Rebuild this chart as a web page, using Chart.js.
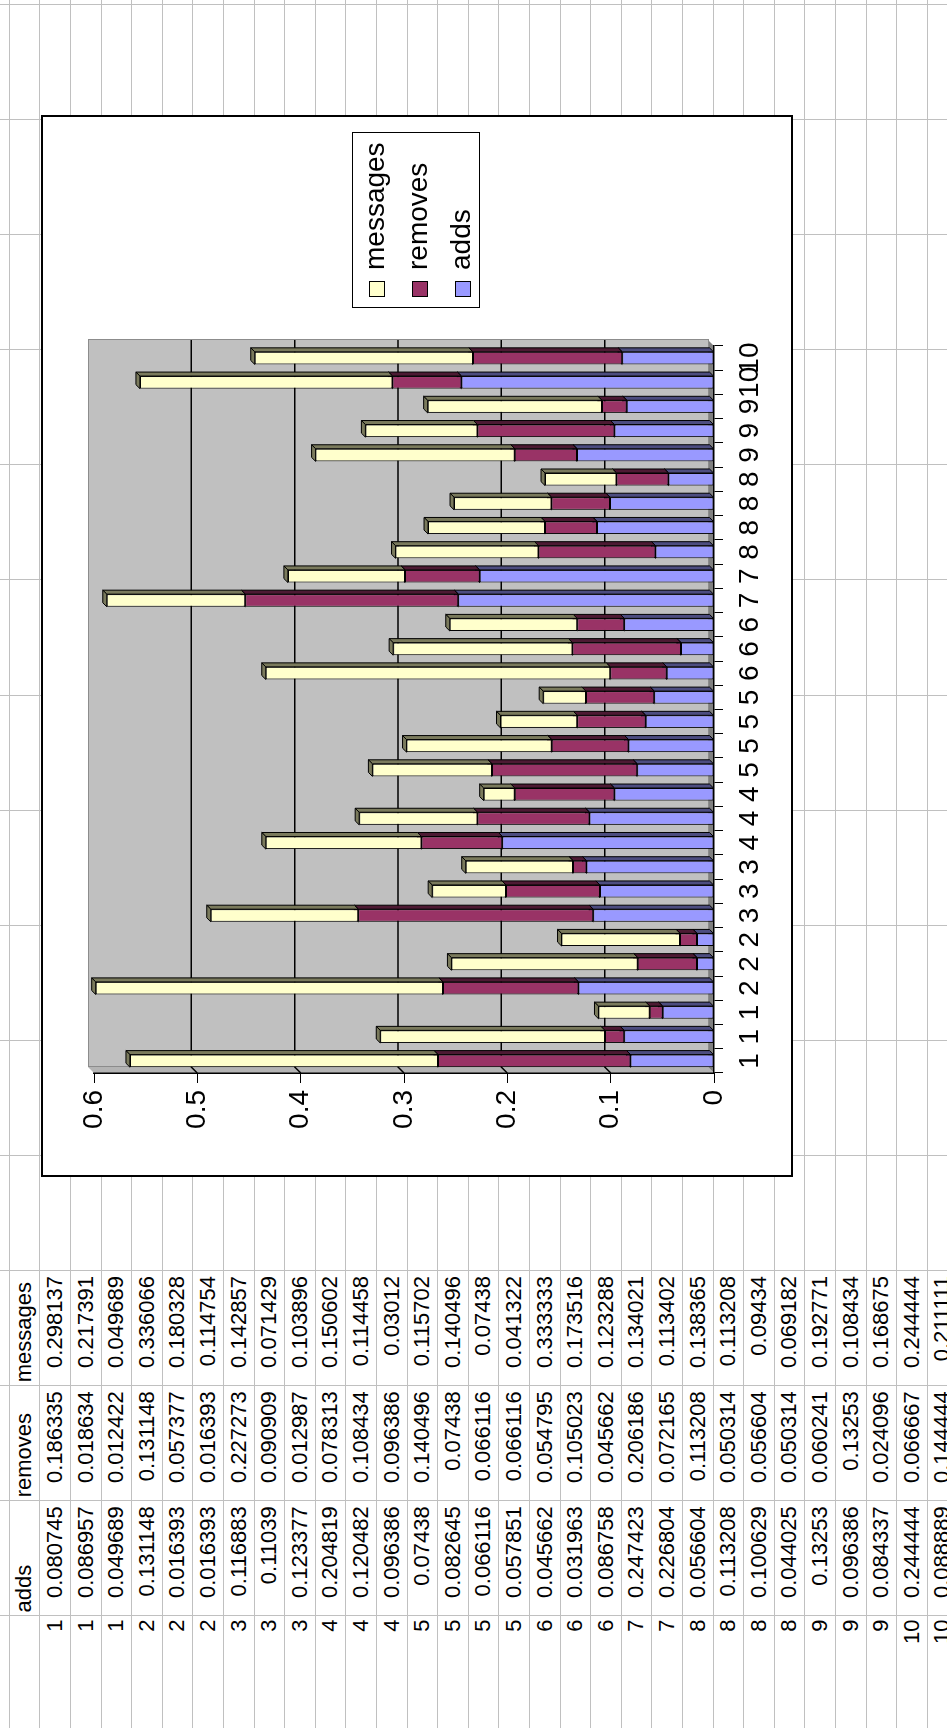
<!DOCTYPE html>
<html>
<head>
<meta charset="utf-8">
<script src="https://cdn.jsdelivr.net/npm/chart.js@4.4.1/dist/chart.umd.min.js"></script>
<style>
  html, body { margin: 0; padding: 0; background: #fff; width: 947px; height: 1728px; overflow: hidden; }
  #sheet {
    position: absolute; left: 0; top: 0; width: 1728px; height: 947px;
    transform-origin: 0 0; transform: translateY(1728px) rotate(-90deg);
    background: #fff; overflow: hidden;
    font-family: "Liberation Sans", Arial, sans-serif; color: #000;
  }
  .hl { position: absolute; left: 0; width: 1728px; height: 1px; background: #c0c0c0; }
  .vl { position: absolute; top: 0; width: 1px; height: 947px; background: #c0c0c0; }
  .cell { position: absolute; height: 30px; line-height: 30px; font-size: 22px; white-space: nowrap; }
  #chartBox { position: absolute; left: 551px; top: 41px; width: 1062px; height: 752px; background: #fff; }
  #chartBox canvas { position: absolute; left: 0; top: 0; }
  #frame { position: absolute; left: 0; top: 0; width: 1062px; height: 752px; box-sizing: border-box; border: 2px solid #000; pointer-events: none; }
  #legend { position: absolute; left: 869px; top: 311px; width: 176px; height: 128px; box-sizing: border-box; border: 1px solid #000; background: #fff; }
  .sw { position: absolute; width: 16px; height: 16px; box-sizing: border-box; border: 1px solid #000; }
  .lt { position: absolute; font-size: 28px; line-height: 28px; white-space: nowrap; }
</style>
</head>
<body>
<div id="sheet">
  <div id="chartBox">
    <canvas id="chart" width="1062" height="752"></canvas>
    <div id="legend"></div>
    <div id="frame"></div>
  </div>
</div>
<script>
// ---- data ----
const categories = ['1','1','1','2','2','2','3','3','3','4','4','4','5','5','5','5',
                    '6','6','6','7','7','8','8','8','8','9','9','9','10','10'];

const adds = [0.080745, 0.086957, 0.049689, 0.131148, 0.016393, 0.016393, 0.116883, 0.11039,
              0.123377, 0.204819, 0.120482, 0.096386, 0.07438, 0.082645, 0.066116, 0.057851,
              0.045662, 0.031963, 0.086758, 0.247423, 0.226804, 0.056604, 0.113208, 0.100629,
              0.044025, 0.13253, 0.096386, 0.084337, 0.244444, 0.088889];

const removes = [0.186335, 0.018634, 0.012422, 0.131148, 0.057377, 0.016393, 0.227273, 0.090909,
                 0.012987, 0.078313, 0.108434, 0.096386, 0.140496, 0.07438, 0.066116, 0.066116,
                 0.054795, 0.105023, 0.045662, 0.206186, 0.072165, 0.113208, 0.050314, 0.056604,
                 0.050314, 0.060241, 0.13253, 0.024096, 0.066667, 0.144444];

const messages = [0.298137, 0.217391, 0.049689, 0.336066, 0.180328, 0.114754, 0.142857, 0.071429,
                  0.103896, 0.150602, 0.114458, 0.03012, 0.115702, 0.140496, 0.07438, 0.041322,
                  0.333333, 0.173516, 0.123288, 0.134021, 0.113402, 0.138365, 0.113208, 0.09434,
                  0.069182, 0.192771, 0.108434, 0.168675, 0.244444, 0.211111];

const valueTickLabels = ['0', '0.1', '0.2', '0.3', '0.4', '0.5', '0.6'];
const seriesNames = ['adds', 'removes', 'messages'];

// ---- worksheet grid ----
const sheet = document.getElementById('sheet');
const ROW0 = 8.7, ROW_H = 30.6;          // row lines (landscape y)
const COL0 = 5, COL_W = 115.1;           // column lines measured from the right edge
for (let k = 0; k <= 31; k++) {
  const d = document.createElement('div');
  d.className = 'hl';
  d.style.top = Math.round(ROW0 + ROW_H * k) + 'px';
  sheet.insertBefore(d, sheet.firstChild);
}
const colEdge = k => 1728 - (COL0 + COL_W * k);
for (let k = 0; k <= 14; k++) {
  const d = document.createElement('div');
  d.className = 'vl';
  d.style.left = Math.round(colEdge(k)) + 'px';
  sheet.insertBefore(d, sheet.firstChild);
}

// ---- data table ----
const cols = [
  { left: 0, right: colEdge(14) },          // row label
  { left: colEdge(14), right: colEdge(13) }, // adds
  { left: colEdge(13), right: colEdge(12) }, // removes
  { left: colEdge(12), right: colEdge(11) }  // messages
];
function cell(text, row, col, align, pad) {
  const d = document.createElement('div');
  d.className = 'cell';
  const c = cols[col];
  d.style.top = (ROW0 + ROW_H * row + 0.6) + 'px';
  d.style.textAlign = align;
  if (align === 'right') {
    d.style.left = c.left + 'px';
    d.style.width = (c.right - c.left - pad) + 'px';
  } else {
    d.style.left = (c.left + pad) + 'px';
    d.style.width = (c.right - c.left - pad) + 'px';
  }
  d.textContent = text;
  sheet.appendChild(d);
}
seriesNames.forEach((n, j) => cell(n, 0, j + 1, 'left', 4));
categories.forEach((c, i) => {
  cell(c, i + 1, 0, 'right', 3);
  cell(String(adds[i]), i + 1, 1, 'right', 5);
  cell(String(removes[i]), i + 1, 2, 'right', 5);
  cell(String(messages[i]), i + 1, 3, 'right', 5);
});

// ---- chart ----
const FONT = '"Liberation Sans", Arial, sans-serif';
const fills = { adds: '#9999FF', removes: '#993366', messages: '#FFFFCC' };
const shades = { adds: '#4d4d80', removes: '#4d1a33', messages: '#7a7a5c' };
const WALL_DEPTH = 6, BAR_DEPTH = 4;

// gray back wall, side wall, floor and the gridlines on the wall
const wall3d = {
  id: 'wall3d',
  beforeDraw(chart) {
    const { ctx, chartArea: a, scales: { y } } = chart;
    const d = WALL_DEPTH;
    ctx.save();
    ctx.fillStyle = '#c0c0c0';
    ctx.fillRect(a.left + d, a.top - d, a.right - a.left, a.bottom - a.top);
    ctx.beginPath();
    ctx.moveTo(a.left, a.bottom); ctx.lineTo(a.left, a.top);
    ctx.lineTo(a.left + d, a.top - d); ctx.lineTo(a.left + d, a.bottom - d);
    ctx.closePath();
    ctx.fillStyle = '#b4b4b4'; ctx.fill();
    ctx.beginPath();
    ctx.moveTo(a.left, a.bottom); ctx.lineTo(a.right, a.bottom);
    ctx.lineTo(a.right + d, a.bottom - d); ctx.lineTo(a.left + d, a.bottom - d);
    ctx.closePath();
    ctx.fillStyle = '#808080'; ctx.fill();
    ctx.strokeStyle = '#8c8c8c'; ctx.lineWidth = 1;
    ctx.strokeRect(a.left + d + 0.5, a.top - d + 0.5, a.right - a.left, a.bottom - a.top);
    ctx.strokeStyle = '#000'; ctx.lineWidth = 1.5;
    y.ticks.forEach(t => {
      if (t.value <= 0 || t.value >= y.max) return;
      const py = y.getPixelForValue(t.value);
      ctx.beginPath();
      ctx.moveTo(a.left, py);
      ctx.lineTo(a.left + d, py - d);
      ctx.lineTo(a.right + d, py - d);
      ctx.stroke();
    });
    ctx.restore();
  },
  // darker side and top faces of each bar segment
  beforeDatasetsDraw(chart) {
    const ctx = chart.ctx, bd = BAR_DEPTH;
    ctx.save();
    ctx.strokeStyle = '#000'; ctx.lineWidth = 1;
    chart.data.datasets.forEach((ds, i) => {
      const meta = chart.getDatasetMeta(i);
      ctx.fillStyle = shades[ds.label];
      meta.data.forEach(el => {
        const { x, y, base, width } = el.getProps(['x', 'y', 'base', 'width'], true);
        const l = x - width / 2, r = x + width / 2;
        const t = Math.min(y, base), b = Math.max(y, base);
        ctx.beginPath();
        ctx.moveTo(r, b); ctx.lineTo(r, t); ctx.lineTo(r + bd, t - bd); ctx.lineTo(r + bd, b - bd);
        ctx.closePath(); ctx.fill(); ctx.stroke();
        ctx.beginPath();
        ctx.moveTo(l, t); ctx.lineTo(r, t); ctx.lineTo(r + bd, t - bd); ctx.lineTo(l + bd, t - bd);
        ctx.closePath(); ctx.fill(); ctx.stroke();
      });
    });
    ctx.restore();
  }
};

const series = { adds, removes, messages };
new Chart(document.getElementById('chart'), {
  type: 'bar',
  data: {
    labels: categories,
    datasets: seriesNames.map(n => ({
      label: n,
      data: series[n],
      backgroundColor: fills[n],
      borderColor: '#000',
      borderWidth: 1,
      borderSkipped: false,
      barPercentage: 0.52,
      categoryPercentage: 1.0
    }))
  },
  options: {
    responsive: false,
    animation: false,
    devicePixelRatio: 1,
    layout: { padding: { left: 0, top: 53, right: 231, bottom: 0 } },
    plugins: { legend: { display: false }, tooltip: { enabled: false } },
    scales: {
      x: {
        stacked: true,
        offset: true,
        grid: { display: true, offset: true, drawOnChartArea: false, drawTicks: true, tickLength: 9, color: '#000', lineWidth: 1 },
        border: { display: true, color: '#000', width: 1.5 },
        ticks: { color: '#000', font: { family: FONT, size: 28 }, padding: 10, maxRotation: 0, minRotation: 0, autoSkip: false },
        afterFit(s) { s.height = 79; s.paddingLeft = 0; s.paddingRight = 0; }
      },
      y: {
        stacked: true,
        min: 0,
        max: 0.6,
        grid: { drawOnChartArea: false, drawTicks: true, tickLength: 10, color: '#000', lineWidth: 1 },
        border: { display: true, color: '#000', width: 1.5 },
        ticks: { stepSize: 0.1, color: '#000', font: { family: FONT, size: 28 }, padding: 7,
                 callback: (v, i) => valueTickLabels[i] },
        afterFit(s) { s.width = 104; s.paddingTop = 0; s.paddingBottom = 0; }
      }
    }
  },
  plugins: [wall3d]
});

// legend, top entry first
const legend = document.getElementById('legend');
['messages', 'removes', 'adds'].forEach((n, i) => {
  const sw = document.createElement('div');
  sw.className = 'sw';
  sw.style.left = '10px';
  sw.style.top = (16 + 43 * i) + 'px';
  sw.style.background = fills[n];
  legend.appendChild(sw);
  const t = document.createElement('div');
  t.className = 'lt';
  t.style.left = '37px';
  t.style.top = (16 + 43 * i + 16 - 24) + 'px';
  t.textContent = n;
  legend.appendChild(t);
});
</script>
</body>
</html>
